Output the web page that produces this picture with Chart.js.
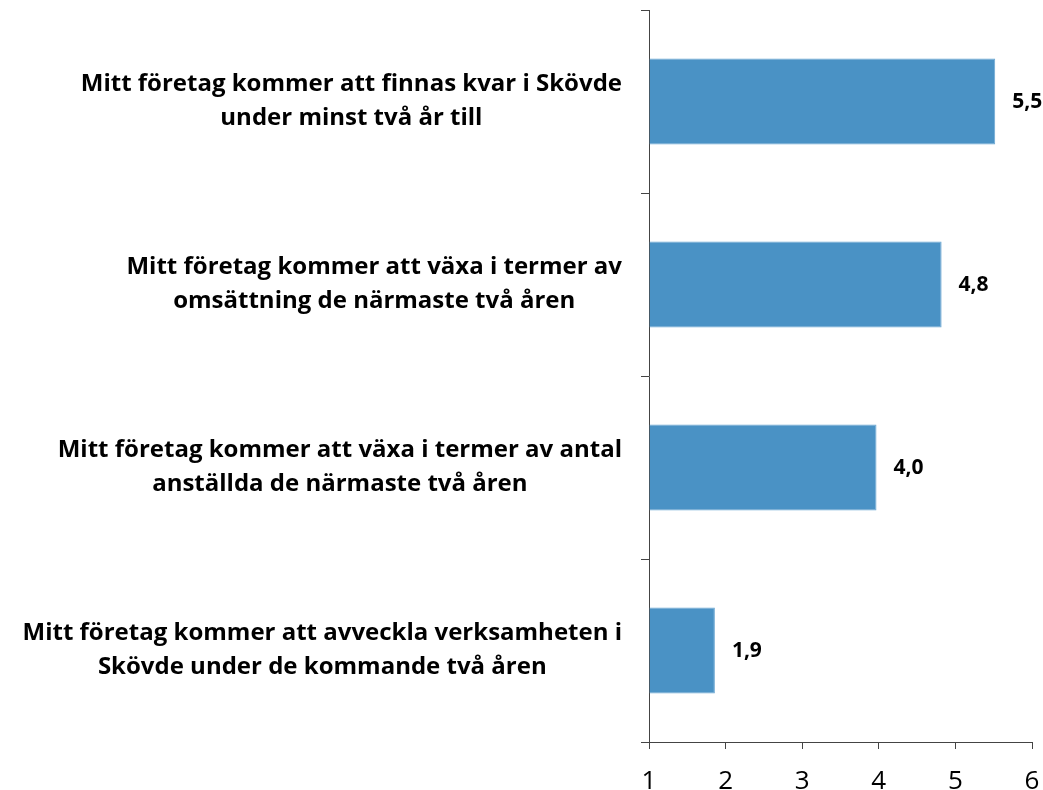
<!DOCTYPE html>
<html>
<head>
<meta charset="utf-8">
<script src="https://cdn.jsdelivr.net/npm/chart.js@4"></script>
<style>
  body { margin: 0; background: #fff; }
</style>
</head>
<body>
<canvas id="chart" width="1043" height="790"></canvas>
<script>
// categories, top to bottom
const categories = [
    ['Mitt företag kommer att finnas kvar i Skövde', 'under minst två år till'],
    ['Mitt företag kommer att växa i termer av', 'omsättning de närmaste två åren'],
    ['Mitt företag kommer att växa i termer av antal', 'anställda de närmaste två åren'],
    ['Mitt företag kommer att avveckla verksamheten i', 'Skövde under de kommande två åren']
];
const values = [5.52, 4.82, 3.97, 1.86];
const xTicks = [1, 2, 3, 4, 5, 6];

const labelFont = 'bold 24px "Open Sans"';

// category labels: lines centered on each other, block right aligned
const categoryLabels = {
    id: 'categoryLabels',
    afterDraw(chart) {
        const ctx = chart.ctx;
        const y = chart.scales.y;
        ctx.save();
        ctx.font = labelFont;
        ctx.fillStyle = '#000';
        ctx.textAlign = 'center';
        ctx.textBaseline = 'middle';
        categories.forEach((lines, i) => {
            const widest = Math.max(...lines.map(l => ctx.measureText(l).width));
            const cx = y.right - 27 - widest / 2;
            const cy = y.getPixelForValue(i);
            lines.forEach((l, j) => {
                ctx.fillText(l, cx, cy + (j - (lines.length - 1) / 2) * 34);
            });
        });
        ctx.restore();
    }
};

// value labels next to the bars
const valueLabels = {
    id: 'valueLabels',
    afterDatasetsDraw(chart) {
        const ctx = chart.ctx;
        const meta = chart.getDatasetMeta(0);
        ctx.save();
        ctx.font = 'bold 21px "Open Sans"';
        ctx.fillStyle = '#000';
        ctx.textAlign = 'left';
        ctx.textBaseline = 'middle';
        meta.data.forEach((bar, i) => {
            ctx.fillText(values[i].toFixed(1).replace('.', ','), bar.x + 17, bar.y + 1);
        });
        ctx.restore();
    }
};

new Chart(document.getElementById('chart'), {
    type: 'bar',
    data: {
        labels: categories,
        datasets: [{
            data: values,
            base: 1,
            backgroundColor: '#4a92c5',
            borderColor: '#6aa6d2',
            borderWidth: 1,
            categoryPercentage: 1,
            barPercentage: 0.47
        }]
    },
    options: {
        indexAxis: 'y',
        responsive: false,
        animation: false,
        layout: { padding: { top: 10, right: 11, left: 0, bottom: 0 } },
        plugins: {
            legend: { display: false },
            tooltip: { enabled: false }
        },
        scales: {
            x: {
                min: 1,
                max: 6,
                afterBuildTicks: (scale) => { scale.ticks = xTicks.map(v => ({ value: v })); },
                ticks: {
                    color: '#000',
                    font: { family: 'Open Sans', size: 26 },
                    padding: 17
                },
                grid: { drawOnChartArea: false, tickLength: 7, color: '#444' },
                border: { color: '#444' },
                afterFit: (scale) => {
                    scale.height = 48;
                    scale.paddingLeft = 0;
                    scale.paddingRight = 0;
                }
            },
            y: {
                ticks: { display: false },
                grid: { drawOnChartArea: false, tickLength: 8, color: '#444' },
                border: { color: '#444' },
                afterFit: (scale) => { scale.width = 649; }
            }
        }
    },
    plugins: [categoryLabels, valueLabels]
});
</script>
</body>
</html>
